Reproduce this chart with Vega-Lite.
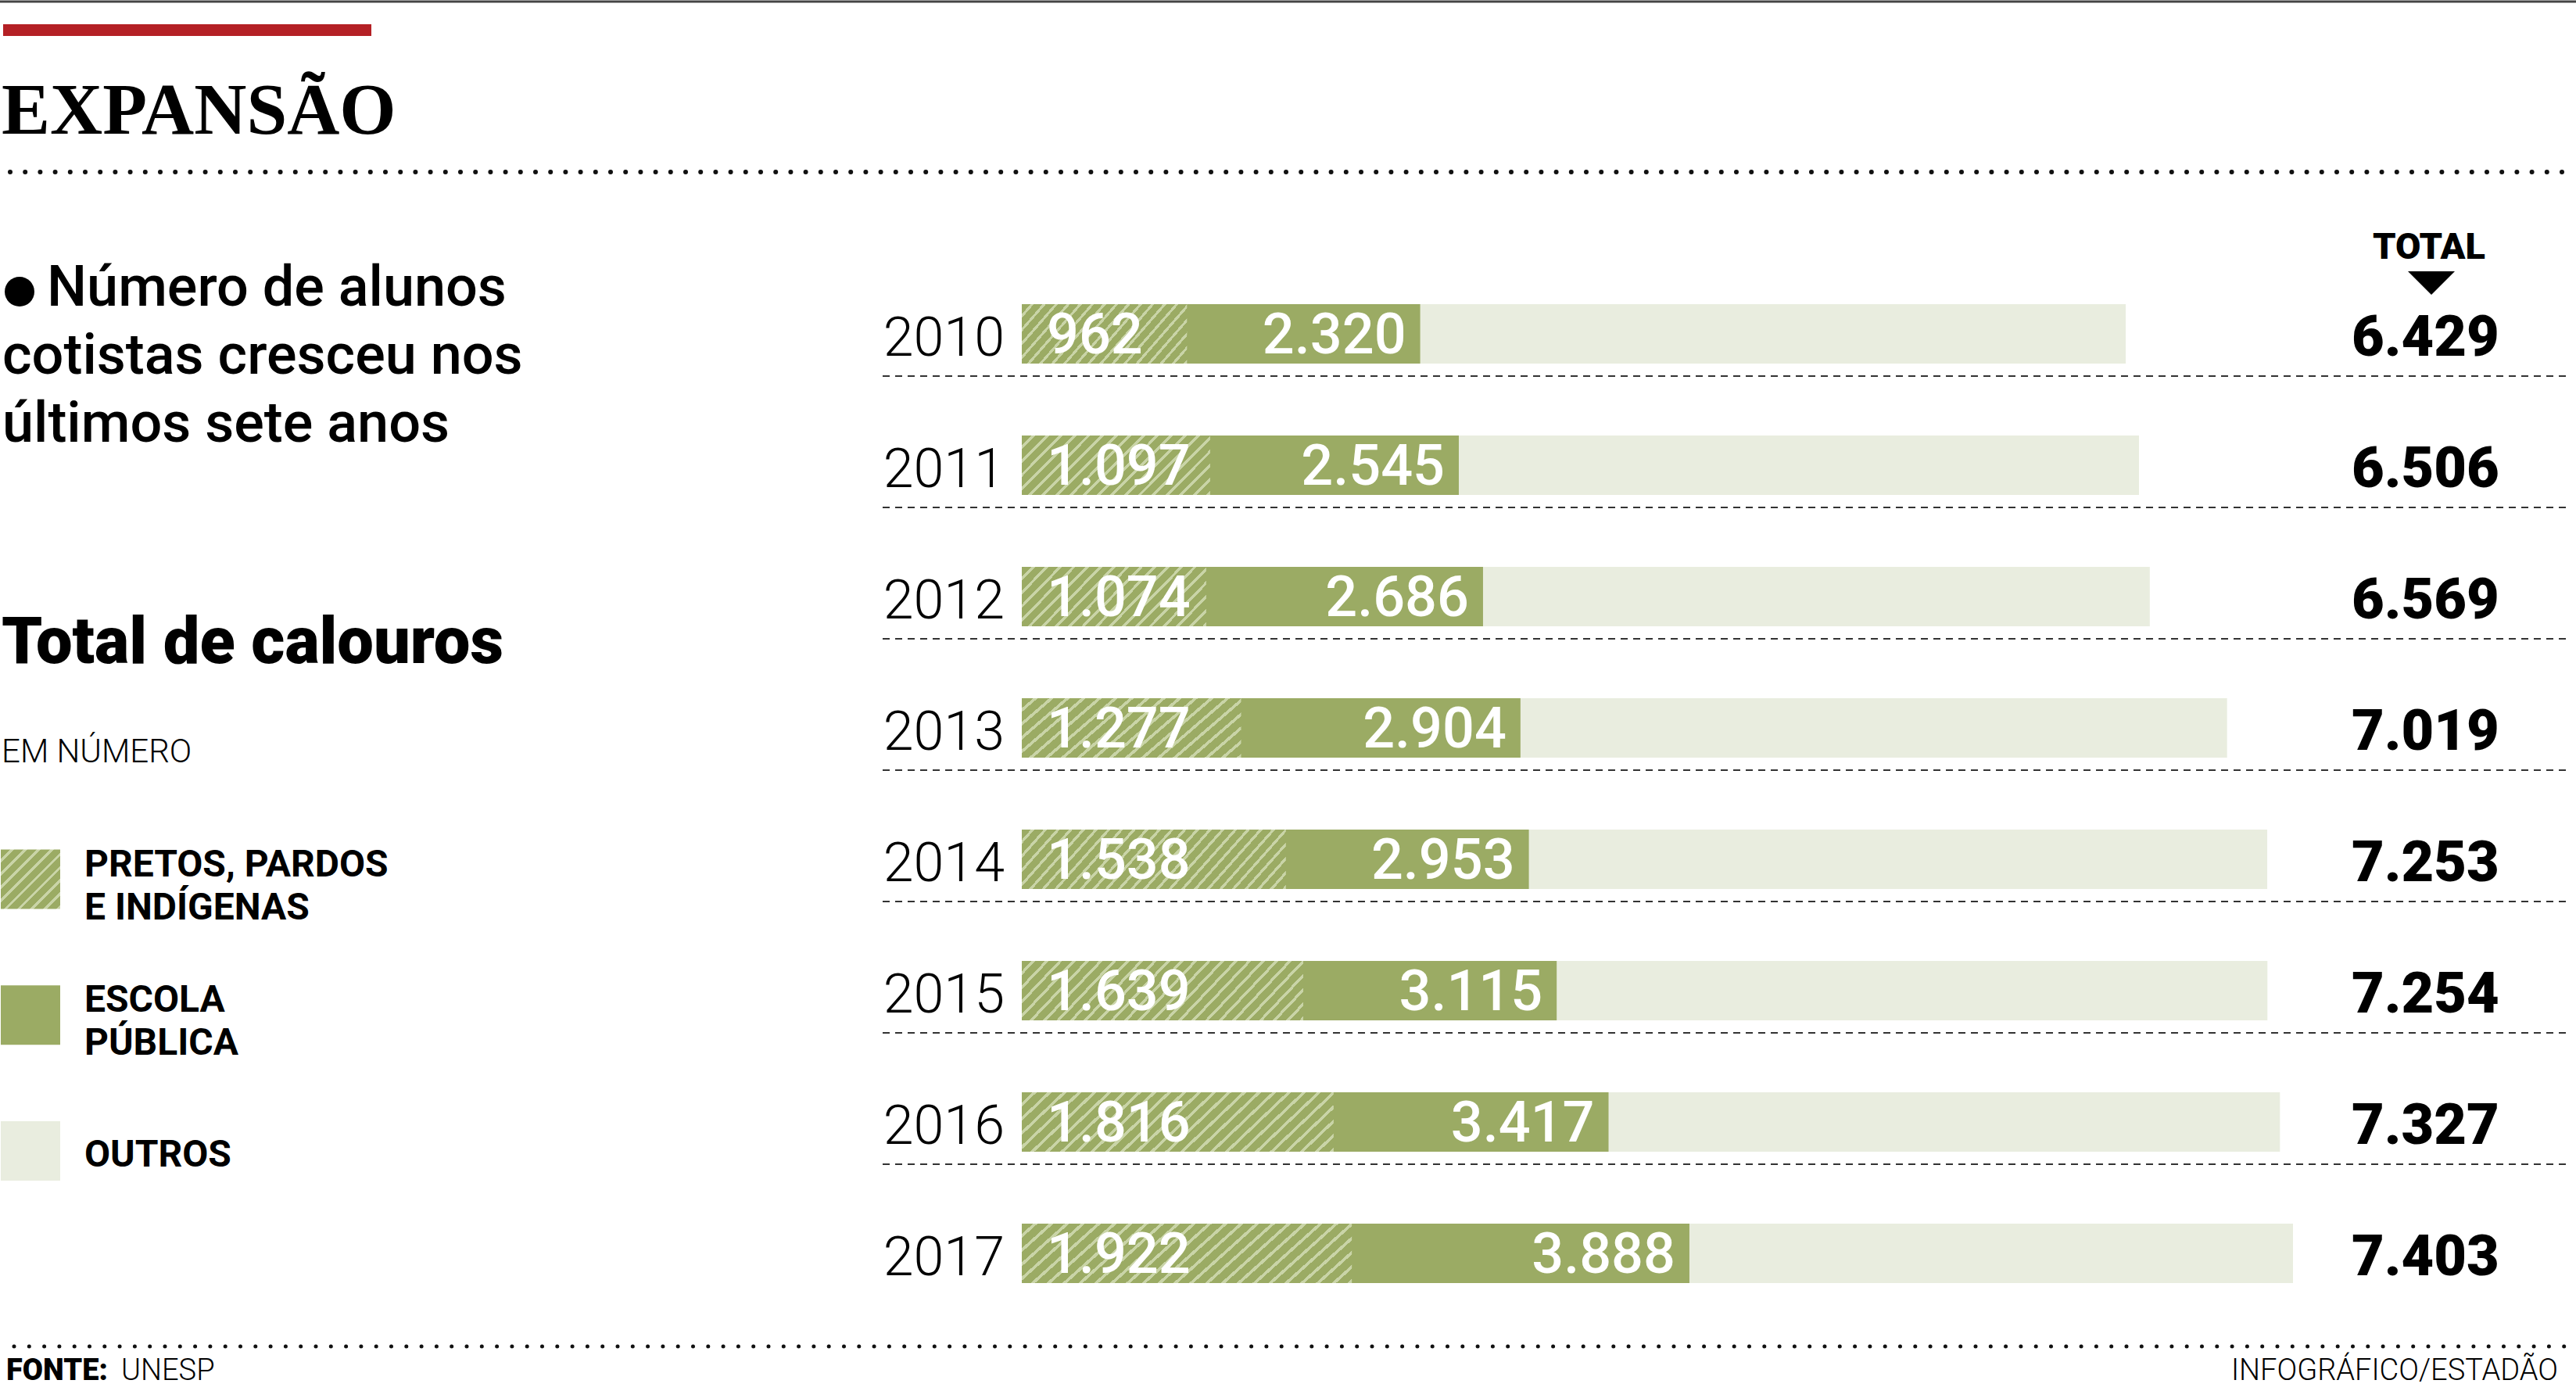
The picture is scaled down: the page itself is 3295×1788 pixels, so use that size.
{
  "$schema": "https://vega.github.io/schema/vega-lite/v6.json",
  "width": 3295,
  "height": 1788,
  "autosize": {"type": "none"},
  "padding": 0,
  "background": "white",
  "config": {
    "view": {"stroke": null},
    "locale": {"number": {"decimal": ",", "thousands": ".", "grouping": [3], "currency": ["R$", ""]}},
    "text": {"font": "Roboto"}
  },
  "datasets": {
    "cotas": [
      {"year": 2010, "category": "outros", "value": 6429},
      {"year": 2010, "category": "escola", "value": 2320},
      {"year": 2010, "category": "pretos", "value": 962},
      {"year": 2011, "category": "outros", "value": 6506},
      {"year": 2011, "category": "escola", "value": 2545},
      {"year": 2011, "category": "pretos", "value": 1097},
      {"year": 2012, "category": "outros", "value": 6569},
      {"year": 2012, "category": "escola", "value": 2686},
      {"year": 2012, "category": "pretos", "value": 1074},
      {"year": 2013, "category": "outros", "value": 7019},
      {"year": 2013, "category": "escola", "value": 2904},
      {"year": 2013, "category": "pretos", "value": 1277},
      {"year": 2014, "category": "outros", "value": 7253},
      {"year": 2014, "category": "escola", "value": 2953},
      {"year": 2014, "category": "pretos", "value": 1538},
      {"year": 2015, "category": "outros", "value": 7254},
      {"year": 2015, "category": "escola", "value": 3115},
      {"year": 2015, "category": "pretos", "value": 1639},
      {"year": 2016, "category": "outros", "value": 7327},
      {"year": 2016, "category": "escola", "value": 3417},
      {"year": 2016, "category": "pretos", "value": 1816},
      {"year": 2017, "category": "outros", "value": 7403},
      {"year": 2017, "category": "escola", "value": 3888},
      {"year": 2017, "category": "pretos", "value": 1922}
    ],
    "legenda": [
      {"category": "pretos", "label": "PRETOS, PARDOS\nE INDÍGENAS"},
      {"category": "escola", "label": "ESCOLA\nPÚBLICA"},
      {"category": "outros", "label": "OUTROS"}
    ]
  },
  "layer": [
    {"data": {"values": [{}]}, "mark": {"type": "rule", "color": "#444444", "strokeWidth": 3}, "encoding": {"x": {"value": 0}, "x2": {"value": 3295}, "y": {"value": 2}}},
    {"data": {"values": [{}]}, "mark": {"type": "rule", "color": "#B42025", "strokeWidth": 15, "strokeCap": "butt"}, "encoding": {"x": {"value": 4}, "x2": {"value": 475}, "y": {"value": 38.5}}},
    {"data": {"values": [{}]}, "mark": {"type": "text", "text": "EXPANSÃO", "font": "Liberation Serif", "fontWeight": "bold", "fontSize": 93, "align": "left", "baseline": "alphabetic", "color": "#000000"}, "encoding": {"x": {"value": 2}, "y": {"value": 171}}},
    {"data": {"values": [{}]}, "mark": {"type": "rule", "color": "#111111", "strokeWidth": 6, "strokeCap": "round", "strokeDash": [0, 19.2]}, "encoding": {"x": {"value": 13}, "x2": {"value": 3292}, "y": {"value": 220}}},
    {"data": {"values": [{}]}, "mark": {"type": "point", "shape": "circle", "filled": true, "opacity": 1, "color": "#000000", "size": 1444}, "encoding": {"x": {"value": 25}, "y": {"value": 373}}},
    {"data": {"values": [{}]}, "mark": {"type": "text", "text": "Número de alunos", "fontSize": 72, "fontWeight": 500, "align": "left", "baseline": "alphabetic", "color": "#000000"}, "encoding": {"x": {"value": 60}, "y": {"value": 391}}},
    {"data": {"values": [{}]}, "mark": {"type": "text", "text": ["cotistas cresceu nos", "últimos sete anos"], "lineHeight": 87, "fontSize": 72, "fontWeight": 500, "align": "left", "baseline": "alphabetic", "color": "#000000"}, "encoding": {"x": {"value": 3}, "y": {"value": 478}}},
    {"data": {"values": [{}]}, "mark": {"type": "text", "text": "Total de calouros", "fontSize": 83, "fontWeight": 900, "align": "left", "baseline": "alphabetic", "color": "#000000"}, "encoding": {"x": {"value": 2}, "y": {"value": 848}}},
    {"data": {"values": [{}]}, "mark": {"type": "text", "text": "EM NÚMERO", "fontSize": 42, "fontWeight": 300, "align": "left", "baseline": "alphabetic", "color": "#000000"}, "encoding": {"x": {"value": 2}, "y": {"value": 975}}},
    {"data": {"values": [{}]}, "mark": {"type": "text", "text": "TOTAL", "fontSize": 47, "fontWeight": 900, "align": "center", "baseline": "alphabetic", "color": "#000000"}, "encoding": {"x": {"value": 3107}, "y": {"value": 331}}},
    {"data": {"values": [{}]}, "mark": {"type": "point", "shape": "M-1,-0.5L1,-0.5L0,0.5Z", "filled": true, "opacity": 1, "color": "#000000", "size": 3600}, "encoding": {"x": {"value": 3110}, "y": {"value": 362}}},
    {"data": {"values": [{}]}, "mark": {"type": "rule", "color": "#111111", "strokeWidth": 5, "strokeCap": "round", "strokeDash": [0, 19.3]}, "encoding": {"x": {"value": 18}, "x2": {"value": 3292}, "y": {"value": 1722}}},
    {"data": {"values": [{}]}, "mark": {"type": "text", "text": "FONTE:", "fontSize": 38, "fontWeight": 900, "align": "left", "baseline": "alphabetic", "color": "#000000"}, "encoding": {"x": {"value": 8}, "y": {"value": 1765}}},
    {"data": {"values": [{}]}, "mark": {"type": "text", "text": "UNESP", "fontSize": 38, "fontWeight": 300, "align": "left", "baseline": "alphabetic", "color": "#000000"}, "encoding": {"x": {"value": 155}, "y": {"value": 1765}}},
    {"data": {"values": [{}]}, "mark": {"type": "text", "text": "INFOGRÁFICO/ESTADÃO", "fontSize": 38, "fontWeight": 300, "align": "right", "baseline": "alphabetic", "color": "#000000"}, "encoding": {"x": {"value": 3272}, "y": {"value": 1765}}},
    {
      "data": {"name": "cotas"},
      "layer": [
        {
          "transform": [{"filter": "datum.category === 'outros' && datum.year < 2017"}],
          "mark": {"type": "rule", "color": "#333333", "strokeWidth": 2, "strokeDash": [9, 7]},
          "encoding": {
            "y": {"field": "year", "type": "ordinal", "bandPosition": 0.821, "scale": {"type": "band", "range": [343, 1687], "paddingInner": 0, "paddingOuter": 0}, "axis": null},
            "x": {"value": 1129},
            "x2": {"value": 3282}
          }
        },
        {
          "mark": {"type": "bar", "height": 76, "orient": "horizontal"},
          "encoding": {
            "y": {"field": "year", "type": "ordinal", "scale": {"type": "band", "range": [343, 1687], "paddingInner": 0, "paddingOuter": 0}, "axis": null},
            "x": {"field": "value", "type": "quantitative", "stack": null, "scale": {"domain": [0, 7403], "range": [1307, 2933], "nice": false, "zero": true}, "axis": null},
            "fill": {
              "condition": [
                {"test": "datum.category === 'outros'", "value": "#E9EDDF"},
                {"test": "datum.category === 'escola'", "value": "#9BAB64"},
                {"test": "datum.year <= 2013", "value": {"gradient": "linear", "x1": 0, "y1": 0, "x2": 1.196, "y2": 0.3756, "stops": [
                  {"offset": 0, "color": "#9BAB64"}, {"offset": 0.04, "color": "#9BAB64"}, {"offset": 0.04, "color": "#C9D4A7"}, {"offset": 0.0556, "color": "#C9D4A7"},
                  {"offset": 0.0556, "color": "#9BAB64"}, {"offset": 0.0956, "color": "#9BAB64"}, {"offset": 0.0956, "color": "#C9D4A7"}, {"offset": 0.1111, "color": "#C9D4A7"},
                  {"offset": 0.1111, "color": "#9BAB64"}, {"offset": 0.1511, "color": "#9BAB64"}, {"offset": 0.1511, "color": "#C9D4A7"}, {"offset": 0.1667, "color": "#C9D4A7"},
                  {"offset": 0.1667, "color": "#9BAB64"}, {"offset": 0.2067, "color": "#9BAB64"}, {"offset": 0.2067, "color": "#C9D4A7"}, {"offset": 0.2222, "color": "#C9D4A7"},
                  {"offset": 0.2222, "color": "#9BAB64"}, {"offset": 0.2622, "color": "#9BAB64"}, {"offset": 0.2622, "color": "#C9D4A7"}, {"offset": 0.2778, "color": "#C9D4A7"},
                  {"offset": 0.2778, "color": "#9BAB64"}, {"offset": 0.3178, "color": "#9BAB64"}, {"offset": 0.3178, "color": "#C9D4A7"}, {"offset": 0.3333, "color": "#C9D4A7"},
                  {"offset": 0.3333, "color": "#9BAB64"}, {"offset": 0.3733, "color": "#9BAB64"}, {"offset": 0.3733, "color": "#C9D4A7"}, {"offset": 0.3889, "color": "#C9D4A7"},
                  {"offset": 0.3889, "color": "#9BAB64"}, {"offset": 0.4289, "color": "#9BAB64"}, {"offset": 0.4289, "color": "#C9D4A7"}, {"offset": 0.4444, "color": "#C9D4A7"},
                  {"offset": 0.4444, "color": "#9BAB64"}, {"offset": 0.4844, "color": "#9BAB64"}, {"offset": 0.4844, "color": "#C9D4A7"}, {"offset": 0.5, "color": "#C9D4A7"},
                  {"offset": 0.5, "color": "#9BAB64"}, {"offset": 0.54, "color": "#9BAB64"}, {"offset": 0.54, "color": "#C9D4A7"}, {"offset": 0.5556, "color": "#C9D4A7"},
                  {"offset": 0.5556, "color": "#9BAB64"}, {"offset": 0.5956, "color": "#9BAB64"}, {"offset": 0.5956, "color": "#C9D4A7"}, {"offset": 0.6111, "color": "#C9D4A7"},
                  {"offset": 0.6111, "color": "#9BAB64"}, {"offset": 0.6511, "color": "#9BAB64"}, {"offset": 0.6511, "color": "#C9D4A7"}, {"offset": 0.6667, "color": "#C9D4A7"},
                  {"offset": 0.6667, "color": "#9BAB64"}, {"offset": 0.7067, "color": "#9BAB64"}, {"offset": 0.7067, "color": "#C9D4A7"}, {"offset": 0.7222, "color": "#C9D4A7"},
                  {"offset": 0.7222, "color": "#9BAB64"}, {"offset": 0.7622, "color": "#9BAB64"}, {"offset": 0.7622, "color": "#C9D4A7"}, {"offset": 0.7778, "color": "#C9D4A7"},
                  {"offset": 0.7778, "color": "#9BAB64"}, {"offset": 0.8178, "color": "#9BAB64"}, {"offset": 0.8178, "color": "#C9D4A7"}, {"offset": 0.8333, "color": "#C9D4A7"},
                  {"offset": 0.8333, "color": "#9BAB64"}, {"offset": 0.8733, "color": "#9BAB64"}, {"offset": 0.8733, "color": "#C9D4A7"}, {"offset": 0.8889, "color": "#C9D4A7"},
                  {"offset": 0.8889, "color": "#9BAB64"}, {"offset": 0.9289, "color": "#9BAB64"}, {"offset": 0.9289, "color": "#C9D4A7"}, {"offset": 0.9444, "color": "#C9D4A7"},
                  {"offset": 0.9444, "color": "#9BAB64"}, {"offset": 0.9844, "color": "#9BAB64"}, {"offset": 0.9844, "color": "#C9D4A7"}, {"offset": 1, "color": "#C9D4A7"}
                ]}}
              ],
              "value": {"gradient": "linear", "x1": 0, "y1": 0, "x2": 1.1538, "y2": 0.2308, "stops": [
                {"offset": 0, "color": "#9BAB64"}, {"offset": 0.0288, "color": "#9BAB64"}, {"offset": 0.0288, "color": "#C9D4A7"}, {"offset": 0.04, "color": "#C9D4A7"},
                {"offset": 0.04, "color": "#9BAB64"}, {"offset": 0.0688, "color": "#9BAB64"}, {"offset": 0.0688, "color": "#C9D4A7"}, {"offset": 0.08, "color": "#C9D4A7"},
                {"offset": 0.08, "color": "#9BAB64"}, {"offset": 0.1088, "color": "#9BAB64"}, {"offset": 0.1088, "color": "#C9D4A7"}, {"offset": 0.12, "color": "#C9D4A7"},
                {"offset": 0.12, "color": "#9BAB64"}, {"offset": 0.1488, "color": "#9BAB64"}, {"offset": 0.1488, "color": "#C9D4A7"}, {"offset": 0.16, "color": "#C9D4A7"},
                {"offset": 0.16, "color": "#9BAB64"}, {"offset": 0.1888, "color": "#9BAB64"}, {"offset": 0.1888, "color": "#C9D4A7"}, {"offset": 0.2, "color": "#C9D4A7"},
                {"offset": 0.2, "color": "#9BAB64"}, {"offset": 0.2288, "color": "#9BAB64"}, {"offset": 0.2288, "color": "#C9D4A7"}, {"offset": 0.24, "color": "#C9D4A7"},
                {"offset": 0.24, "color": "#9BAB64"}, {"offset": 0.2688, "color": "#9BAB64"}, {"offset": 0.2688, "color": "#C9D4A7"}, {"offset": 0.28, "color": "#C9D4A7"},
                {"offset": 0.28, "color": "#9BAB64"}, {"offset": 0.3088, "color": "#9BAB64"}, {"offset": 0.3088, "color": "#C9D4A7"}, {"offset": 0.32, "color": "#C9D4A7"},
                {"offset": 0.32, "color": "#9BAB64"}, {"offset": 0.3488, "color": "#9BAB64"}, {"offset": 0.3488, "color": "#C9D4A7"}, {"offset": 0.36, "color": "#C9D4A7"},
                {"offset": 0.36, "color": "#9BAB64"}, {"offset": 0.3888, "color": "#9BAB64"}, {"offset": 0.3888, "color": "#C9D4A7"}, {"offset": 0.4, "color": "#C9D4A7"},
                {"offset": 0.4, "color": "#9BAB64"}, {"offset": 0.4288, "color": "#9BAB64"}, {"offset": 0.4288, "color": "#C9D4A7"}, {"offset": 0.44, "color": "#C9D4A7"},
                {"offset": 0.44, "color": "#9BAB64"}, {"offset": 0.4688, "color": "#9BAB64"}, {"offset": 0.4688, "color": "#C9D4A7"}, {"offset": 0.48, "color": "#C9D4A7"},
                {"offset": 0.48, "color": "#9BAB64"}, {"offset": 0.5088, "color": "#9BAB64"}, {"offset": 0.5088, "color": "#C9D4A7"}, {"offset": 0.52, "color": "#C9D4A7"},
                {"offset": 0.52, "color": "#9BAB64"}, {"offset": 0.5488, "color": "#9BAB64"}, {"offset": 0.5488, "color": "#C9D4A7"}, {"offset": 0.56, "color": "#C9D4A7"},
                {"offset": 0.56, "color": "#9BAB64"}, {"offset": 0.5888, "color": "#9BAB64"}, {"offset": 0.5888, "color": "#C9D4A7"}, {"offset": 0.6, "color": "#C9D4A7"},
                {"offset": 0.6, "color": "#9BAB64"}, {"offset": 0.6288, "color": "#9BAB64"}, {"offset": 0.6288, "color": "#C9D4A7"}, {"offset": 0.64, "color": "#C9D4A7"},
                {"offset": 0.64, "color": "#9BAB64"}, {"offset": 0.6688, "color": "#9BAB64"}, {"offset": 0.6688, "color": "#C9D4A7"}, {"offset": 0.68, "color": "#C9D4A7"},
                {"offset": 0.68, "color": "#9BAB64"}, {"offset": 0.7088, "color": "#9BAB64"}, {"offset": 0.7088, "color": "#C9D4A7"}, {"offset": 0.72, "color": "#C9D4A7"},
                {"offset": 0.72, "color": "#9BAB64"}, {"offset": 0.7488, "color": "#9BAB64"}, {"offset": 0.7488, "color": "#C9D4A7"}, {"offset": 0.76, "color": "#C9D4A7"},
                {"offset": 0.76, "color": "#9BAB64"}, {"offset": 0.7888, "color": "#9BAB64"}, {"offset": 0.7888, "color": "#C9D4A7"}, {"offset": 0.8, "color": "#C9D4A7"},
                {"offset": 0.8, "color": "#9BAB64"}, {"offset": 0.8288, "color": "#9BAB64"}, {"offset": 0.8288, "color": "#C9D4A7"}, {"offset": 0.84, "color": "#C9D4A7"},
                {"offset": 0.84, "color": "#9BAB64"}, {"offset": 0.8688, "color": "#9BAB64"}, {"offset": 0.8688, "color": "#C9D4A7"}, {"offset": 0.88, "color": "#C9D4A7"},
                {"offset": 0.88, "color": "#9BAB64"}, {"offset": 0.9088, "color": "#9BAB64"}, {"offset": 0.9088, "color": "#C9D4A7"}, {"offset": 0.92, "color": "#C9D4A7"},
                {"offset": 0.92, "color": "#9BAB64"}, {"offset": 0.9488, "color": "#9BAB64"}, {"offset": 0.9488, "color": "#C9D4A7"}, {"offset": 0.96, "color": "#C9D4A7"},
                {"offset": 0.96, "color": "#9BAB64"}, {"offset": 0.9888, "color": "#9BAB64"}, {"offset": 0.9888, "color": "#C9D4A7"}, {"offset": 1, "color": "#C9D4A7"}
              ]}
            }
          }
        },
        {
          "transform": [{"filter": "datum.category === 'outros'"}],
          "mark": {"type": "text", "align": "right", "baseline": "alphabetic", "dx": -22, "dy": 28, "fontSize": 70, "fontWeight": 300, "color": "#000000"},
          "encoding": {
            "y": {"field": "year", "type": "ordinal", "scale": {"type": "band", "range": [343, 1687], "paddingInner": 0, "paddingOuter": 0}, "axis": null},
            "x": {"datum": 0, "type": "quantitative"},
            "text": {"field": "year", "type": "ordinal"}
          }
        },
        {
          "transform": [{"filter": "datum.category === 'pretos'"}],
          "mark": {"type": "text", "align": "left", "baseline": "alphabetic", "dx": 32, "dy": 25, "fontSize": 72, "fontWeight": 500, "color": "#FFFFFF"},
          "encoding": {
            "y": {"field": "year", "type": "ordinal", "scale": {"type": "band", "range": [343, 1687], "paddingInner": 0, "paddingOuter": 0}, "axis": null},
            "x": {"datum": 0, "type": "quantitative"},
            "text": {"field": "value", "type": "quantitative", "format": ",d"}
          }
        },
        {
          "transform": [{"filter": "datum.category === 'escola'"}],
          "mark": {"type": "text", "align": "right", "baseline": "alphabetic", "dx": -18, "dy": 25, "fontSize": 72, "fontWeight": 500, "color": "#FFFFFF"},
          "encoding": {
            "y": {"field": "year", "type": "ordinal", "scale": {"type": "band", "range": [343, 1687], "paddingInner": 0, "paddingOuter": 0}, "axis": null},
            "x": {"field": "value", "type": "quantitative"},
            "text": {"field": "value", "type": "quantitative", "format": ",d"}
          }
        },
        {
          "transform": [{"filter": "datum.category === 'outros'"}],
          "mark": {"type": "text", "align": "left", "baseline": "alphabetic", "dy": 28, "fontSize": 72, "fontWeight": 900, "color": "#000000"},
          "encoding": {
            "y": {"field": "year", "type": "ordinal", "scale": {"type": "band", "range": [343, 1687], "paddingInner": 0, "paddingOuter": 0}, "axis": null},
            "x": {"value": 3008},
            "text": {"field": "value", "type": "quantitative", "format": ",d"}
          }
        }
      ]
    },
    {
      "data": {"name": "legenda"},
      "layer": [
        {
          "mark": {"type": "point", "shape": "square", "filled": true, "opacity": 1, "strokeWidth": 0, "size": 5776},
          "encoding": {
            "y": {"field": "category", "type": "nominal", "scale": {"type": "point", "domain": ["pretos", "escola", "outros"], "range": [1124.5, 1472], "padding": 0}, "axis": null},
            "x": {"value": 39},
            "fill": {
              "condition": [
                {"test": "datum.category === 'escola'", "value": "#9BAB64"},
                {"test": "datum.category === 'outros'", "value": "#E9EDDF"}
              ],
              "value": {"gradient": "linear", "x1": 0, "y1": 0, "x2": 1, "y2": 1, "stops": [
                {"offset": 0, "color": "#9BAB64"}, {"offset": 0.08, "color": "#9BAB64"}, {"offset": 0.08, "color": "#C9D4A7"}, {"offset": 0.1111, "color": "#C9D4A7"},
                {"offset": 0.1111, "color": "#9BAB64"}, {"offset": 0.1911, "color": "#9BAB64"}, {"offset": 0.1911, "color": "#C9D4A7"}, {"offset": 0.2222, "color": "#C9D4A7"},
                {"offset": 0.2222, "color": "#9BAB64"}, {"offset": 0.3022, "color": "#9BAB64"}, {"offset": 0.3022, "color": "#C9D4A7"}, {"offset": 0.3333, "color": "#C9D4A7"},
                {"offset": 0.3333, "color": "#9BAB64"}, {"offset": 0.4133, "color": "#9BAB64"}, {"offset": 0.4133, "color": "#C9D4A7"}, {"offset": 0.4444, "color": "#C9D4A7"},
                {"offset": 0.4444, "color": "#9BAB64"}, {"offset": 0.5244, "color": "#9BAB64"}, {"offset": 0.5244, "color": "#C9D4A7"}, {"offset": 0.5556, "color": "#C9D4A7"},
                {"offset": 0.5556, "color": "#9BAB64"}, {"offset": 0.6356, "color": "#9BAB64"}, {"offset": 0.6356, "color": "#C9D4A7"}, {"offset": 0.6667, "color": "#C9D4A7"},
                {"offset": 0.6667, "color": "#9BAB64"}, {"offset": 0.7467, "color": "#9BAB64"}, {"offset": 0.7467, "color": "#C9D4A7"}, {"offset": 0.7778, "color": "#C9D4A7"},
                {"offset": 0.7778, "color": "#9BAB64"}, {"offset": 0.8578, "color": "#9BAB64"}, {"offset": 0.8578, "color": "#C9D4A7"}, {"offset": 0.8889, "color": "#C9D4A7"},
                {"offset": 0.8889, "color": "#9BAB64"}, {"offset": 0.9689, "color": "#9BAB64"}, {"offset": 0.9689, "color": "#C9D4A7"}, {"offset": 1, "color": "#C9D4A7"}
              ]}
            }
          }
        },
        {
          "transform": [{"filter": "datum.category !== 'outros'"}],
          "mark": {"type": "text", "align": "left", "baseline": "middle", "dy": -18, "lineBreak": "\n", "lineHeight": 55, "fontSize": 48, "fontWeight": "bold", "color": "#000000"},
          "encoding": {
            "y": {"field": "category", "type": "nominal", "scale": {"type": "point", "domain": ["pretos", "escola", "outros"], "range": [1124.5, 1472], "padding": 0}, "axis": null},
            "x": {"value": 108},
            "text": {"field": "label", "type": "nominal"}
          }
        },
        {
          "transform": [{"filter": "datum.category === 'outros'"}],
          "mark": {"type": "text", "align": "left", "baseline": "middle", "dy": 6, "fontSize": 48, "fontWeight": "bold", "color": "#000000"},
          "encoding": {
            "y": {"field": "category", "type": "nominal", "scale": {"type": "point", "domain": ["pretos", "escola", "outros"], "range": [1124.5, 1472], "padding": 0}, "axis": null},
            "x": {"value": 108},
            "text": {"field": "label", "type": "nominal"}
          }
        }
      ]
    }
  ],
  "resolve": {"scale": {"x": "independent", "y": "independent"}}
}
